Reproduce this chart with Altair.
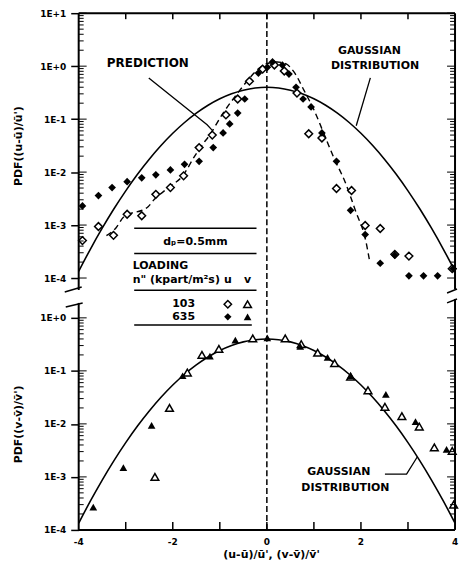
import altair as alt
import pandas as pd

FONT = "DejaVu Sans"

# ---------------- data ----------------
# Gaussian distribution curve (same in both panels)
gauss_x = [-4.0, -3.75, -3.5, -3.25, -3.0, -2.75, -2.5, -2.25, -2.0, -1.75, -1.5, -1.25, -1.0, -0.75, -0.5, -0.25, 0.0,
           0.25, 0.5, 0.75, 1.0, 1.25, 1.5, 1.75, 2.0, 2.25, 2.5, 2.75, 3.0, 3.25, 3.5, 3.75, 4.0]
gauss_pdf = [1.34e-4, 3.53e-4, 8.73e-4, 2.03e-3, 4.43e-3, 9.1e-3, 0.0175, 0.0317, 0.054, 0.0863, 0.1295, 0.1826, 0.242,
             0.301, 0.352, 0.387, 0.399, 0.387, 0.352, 0.301, 0.242, 0.1826, 0.1295, 0.0863, 0.054, 0.0317, 0.0175,
             9.1e-3, 4.43e-3, 2.03e-3, 8.73e-4, 3.53e-4, 1.34e-4]

# Prediction (dashed) curve, top panel
pred_x = [-3.41, -3.20, -3.05, -2.53, -2.40, -2.09, -1.79, -1.52, -1.37, -1.23, -0.93, -0.62, -0.37, -0.16, 0.05,
          0.22, 0.41, 0.58, 0.79, 1.00, 1.25, 1.42, 1.67, 1.88, 2.11, 2.18]
pred_pdf = [6.3e-4, 9.0e-4, 1.4e-3, 2.2e-3, 3.0e-3, 5.1e-3, 8.5e-3, 0.021, 0.033, 0.048, 0.13, 0.31, 0.59, 0.92, 1.15,
            1.2, 1.1, 0.77, 0.35, 0.15, 0.044, 0.019, 6.3e-3, 1.9e-3, 4.7e-4, 2.2e-4]

# u data, loading 103 (open diamonds)
u103_x = [-3.92, -3.58, -3.26, -2.97, -2.66, -2.36, -2.05, -1.77, -1.44, -1.16, -0.87, -0.62, -0.37, -0.09, 0.16,
          0.37, 0.64, 0.89, 1.17, 1.48, 1.80, 2.09, 2.41, 2.72, 3.02, 3.94]
u103_pdf = [5.1e-4, 9.4e-4, 6.4e-4, 1.6e-3, 1.5e-3, 3.8e-3, 5.1e-3, 8.5e-3, 2.9e-2, 5.0e-2, 0.12, 0.24, 0.52, 0.88,
            1.05, 0.81, 0.31, 0.053, 0.044, 4.9e-3, 4.5e-3, 9.8e-4, 8.6e-4, 2.8e-4, 2.6e-4, 1.5e-4]

# u data, loading 635 (filled diamonds)
u635_x = [-3.92, -3.58, -3.29, -2.97, -2.66, -2.36, -2.05, -1.75, -1.44, -1.14, -0.93, -0.79, -0.62, -0.47, -0.18,
          0.01, 0.12, 0.33, 0.47, 0.62, 0.77, 0.94, 1.17, 1.48, 1.78, 2.09, 2.41, 2.72, 3.02, 3.33, 3.63, 3.96]
u635_pdf = [2.3e-3, 3.6e-3, 5.1e-3, 6.6e-3, 7.8e-3, 8.9e-3, 1.1e-2, 1.4e-2, 1.6e-2, 2.9e-2, 5.5e-2, 8.1e-2, 0.13,
            0.24, 0.74, 0.95, 1.2, 1.05, 0.71, 0.40, 0.24, 0.17, 0.055, 0.016, 1.9e-3, 6.6e-4, 1.9e-4, 2.7e-4,
            1.1e-4, 1.1e-4, 1.1e-4, 1.5e-4]

# v data, loading 103 (open triangles)
v103_x = [-2.38, -2.07, -1.69, -1.38, -1.02, -0.30, 0.39, 0.73, 1.08, 1.44, 1.78, 2.15, 2.51, 2.87, 3.24, 3.56,
          3.94, 3.97]
v103_pdf = [1.0e-3, 0.020, 0.093, 0.20, 0.26, 0.41, 0.41, 0.32, 0.22, 0.14, 0.078, 0.043, 0.021, 0.014, 8.9e-3,
            3.6e-3, 3.1e-3, 3.0e-4]

# v data, loading 635 (filled triangles)
v635_x = [-3.69, -3.05, -2.45, -1.79, -1.21, -0.67, 0.01, 0.71, 1.29, 1.78, 2.53, 3.16, 3.82]
v635_pdf = [2.7e-4, 1.5e-3, 9.4e-3, 0.081, 0.19, 0.38, 0.42, 0.29, 0.18, 0.081, 0.036, 0.011, 3.3e-3]

top_decades = [1e-4, 1e-3, 1e-2, 1e-1, 1, 10]
bot_decades = [1e-4, 1e-3, 1e-2, 1e-1, 1]
x_inner_ticks = [-3, -2, -1, 0, 1, 2, 3]
x_label_vals = [-4, -2, 0, 2, 4]
x_label_text = ["-4", "-2", "0", "2", "4"]

y_title_top = "PDF((u-ū)/ū')"
y_title_bot = "PDF((v-v̄)/v̄')"
x_title = "(u-ū)/ū', (v-v̄)/v̄'"

# ---------------- layout ----------------
W = 378          # plot width
HT = 266         # top panel (1E-4 .. 1E+1)
HB = 213         # bottom panel (1E-4 .. 1E+0)
GAP = 40         # broken-axis gap
H = HT + GAP + HB
DEC_T = HT / 5.0
DEC_B = HB / 4.0

xs = alt.Scale(domain=[-4, 4], nice=False, zero=False)
# top panel scale: 1E+1 at the top edge, 1E-4 at HT
yst = alt.Scale(type="log", domain=[10 ** (1 - H / DEC_T), 10], nice=False)
# bottom panel scale: 1E-4 at the bottom edge, 1E+0 at HT+GAP
ysb = alt.Scale(type="log", domain=[1e-4, 10 ** (-4 + H / DEC_B)], nice=False)

LBL = "'1E' + (datum.value >= 1 ? '+' : '-') + abs(round(log(datum.value) / LN10))"

one = pd.DataFrame({"k": [0]})


def minor_vals(lo, hi):
    out = []
    for e in range(lo, hi):
        for k in range(2, 10):
            out.append(k * 10.0 ** e)
    return out


def prule(x1, y1, x2, y2, w=2.0):
    return alt.Chart(one).mark_rule(color="black", strokeWidth=w).encode(
        x=alt.value(x1), y=alt.value(y1), x2=alt.value(x2), y2=alt.value(y2))


def line_layer(xv, yv, ys, dash=None, w=1.6, axis_y=None):
    df = pd.DataFrame({"x": xv, "y": yv})
    kw = {"strokeDash": dash} if dash else {}
    return alt.Chart(df).mark_line(color="black", strokeWidth=w, interpolate="monotone", **kw).encode(
        x=alt.X("x:Q", scale=xs, axis=None), y=alt.Y("y:Q", scale=ys, axis=axis_y))


def pts(xv, yv, ys, shape, filled, size):
    df = pd.DataFrame({"x": xv, "y": yv})
    if filled:
        m = alt.Chart(df).mark_point(shape=shape, filled=True, color="black", size=size, opacity=1)
    else:
        m = alt.Chart(df).mark_point(shape=shape, filled=True, fill="white", stroke="black",
                                     strokeWidth=1.5, size=size, opacity=1)
    return m.encode(x=alt.X("x:Q", scale=xs, axis=None), y=alt.Y("y:Q", scale=ys, axis=None))


def texts(rows, ys, size=11, align="center"):
    df = pd.DataFrame(rows, columns=["x", "y", "t"])
    return alt.Chart(df).mark_text(font=FONT, fontWeight="bold", fontSize=size, align=align,
                                   baseline="middle", color="black").encode(
        x=alt.X("x:Q", scale=xs, axis=None), y=alt.Y("y:Q", scale=ys, axis=None), text="t:N")


def xtexts(xv, tv, ypix, size):
    df = pd.DataFrame({"x": xv, "t": tv})
    return alt.Chart(df).mark_text(font=FONT, fontWeight="bold", fontSize=size, align="center",
                                   baseline="middle", color="black").encode(
        x=alt.X("x:Q", scale=xs, axis=None), y=alt.value(ypix), text="t:N")


def hlines(rows, ys, w=1.5):
    df = pd.DataFrame(rows, columns=["x1", "x2", "y"])
    return alt.Chart(df).mark_rule(color="black", strokeWidth=w).encode(
        x=alt.X("x1:Q", scale=xs, axis=None), x2="x2:Q", y=alt.Y("y:Q", scale=ys, axis=None))


def polyline(pts_list, ys, w=1.3):
    df = pd.DataFrame({"x": [p[0] for p in pts_list], "y": [p[1] for p in pts_list],
                       "o": list(range(len(pts_list)))})
    return alt.Chart(df).mark_line(color="black", strokeWidth=w).encode(
        x=alt.X("x:Q", scale=xs, axis=None), y=alt.Y("y:Q", scale=ys, axis=None), order="o:Q")


def yticks(vals, ys, length):
    df = pd.DataFrame({"v": vals})
    left = alt.Chart(df).mark_rule(color="black", strokeWidth=1).encode(
        y=alt.Y("v:Q", scale=ys, axis=None), x=alt.value(0), x2=alt.value(length))
    right = alt.Chart(df).mark_rule(color="black", strokeWidth=1).encode(
        y=alt.Y("v:Q", scale=ys, axis=None), x=alt.value(W - length), x2=alt.value(W))
    return [left, right]


def xticks(y1, y2):
    df = pd.DataFrame({"v": x_inner_ticks})
    return alt.Chart(df).mark_rule(color="black", strokeWidth=1.5).encode(
        x=alt.X("v:Q", scale=xs, axis=None), y=alt.value(y1), y2=alt.value(y2))


def y_axis(vals, title, title_y):
    return alt.Axis(orient="left", values=vals, labelExpr=LBL, tickSize=8, tickWidth=1.5, domain=False,
                    grid=False, labelFontSize=9, labelPadding=5, title=title, titleFontSize=11,
                    titleX=-60, titleY=title_y, titleAngle=270, titleAlign="center", titleBaseline="middle")


zero_df = pd.DataFrame({"x": [0]})
zero_line = alt.Chart(zero_df).mark_rule(color="black", strokeWidth=1.5, strokeDash=[6, 3]).encode(
    x=alt.X("x:Q", scale=xs, axis=None), y=alt.value(0), y2=alt.value(H))

layers = [
    # Gaussian curves, carrying the y axes
    line_layer(gauss_x, gauss_pdf, yst, axis_y=y_axis(top_decades, y_title_top, HT / 2)),
    line_layer(gauss_x, gauss_pdf, ysb, axis_y=y_axis(bot_decades, y_title_bot, HT + GAP + HB / 2)),
    zero_line,
    # ---- top panel ----
    line_layer(pred_x, pred_pdf, yst, dash=[6, 4], w=1.4),
    pts(u103_x, u103_pdf, yst, "diamond", False, 60),
    pts(u635_x, u635_pdf, yst, "diamond", True, 60),
    # ---- bottom panel ----
    pts(v103_x, v103_pdf, ysb, "triangle-up", False, 60),
    pts(v635_x, v635_pdf, ysb, "triangle-up", True, 60),
    # ---- frame with broken axis ----
    prule(0, 0, W, 0), prule(0, H, W, H),
    prule(0, 0, 0, HT + 12), prule(W, 0, W, HT + 11),
    prule(0, HT + GAP - 15, 0, H), prule(W, HT + GAP - 19, W, H),
    prule(-14, HT + 14, 3, HT + 9, 1.5), prule(W - 8, HT + 15, W + 2, HT + 11, 1.5),
    prule(-13, HT + GAP - 11, 4, HT + GAP - 15, 1.5), prule(W - 8, HT + GAP - 15, W + 2, HT + GAP - 19, 1.5),
    xticks(0, 6),
    xticks(H - 8, H),
    *yticks(minor_vals(-4, 1), yst, 5),
    *yticks(top_decades, yst, 8),
    *yticks(minor_vals(-4, 0), ysb, 5),
    *yticks(bot_decades, ysb, 8),
    # ---- x tick labels and title ----
    xtexts(x_label_vals, x_label_text, H + 12, 9),
    xtexts([0.1], [x_title], H + 25, 11),
    # ---- annotations, top ----
    texts([[-2.53, 1.15, "PREDICTION"]], yst, size=12),
    polyline([[-2.51, 0.60], [-1.27, 0.078], [-1.15, 0.060]], yst),
    texts([[2.18, 1.93, "GAUSSIAN"], [2.30, 1.01, "DISTRIBUTION"]], yst),
    polyline([[2.20, 0.60], [1.90, 0.075]], yst),
    # ---- legend table ----
    hlines([[-2.82, -0.22, 8.7e-4], [-2.82, -0.22, 2.9e-4], [-2.82, -0.22, 5.9e-5], [-2.82, -0.32, 1.3e-5]], yst),
    texts([[-1.52, 4.8e-4, "dₚ=0.5mm"]], yst),
    texts([[-2.85, 1.7e-4, "LOADING"], [-2.85, 9.1e-5, 'n" (kpart/m²s)']], yst, align="left"),
    texts([[-0.83, 9.1e-5, "u"], [-0.41, 9.1e-5, "v"], [-1.77, 3.2e-5, "103"], [-1.77, 1.85e-5, "635"]], yst),
    pts([-0.83], [3.2e-5], yst, "diamond", False, 55),
    pts([-0.41], [3.2e-5], yst, "triangle-up", False, 60),
    pts([-0.83], [1.85e-5], yst, "diamond", True, 55),
    pts([-0.41], [1.85e-5], yst, "triangle-up", True, 60),
    # ---- annotations, bottom ----
    texts([[1.53, 1.24e-3, "GAUSSIAN"], [1.67, 6.2e-4, "DISTRIBUTION"]], ysb),
    polyline([[2.51, 1.13e-3], [2.97, 1.13e-3], [3.2, 2.4e-3]], ysb),
]

chart = alt.layer(*layers).resolve_scale(y="independent").properties(
    width=W, height=H, padding={"left": 5, "top": 0, "right": 0, "bottom": 0}
).configure_view(stroke=None).configure_axis(
    labelFont=FONT, titleFont=FONT, labelFontWeight="bold", titleFontWeight="bold",
    labelColor="black", titleColor="black", domainColor="black", tickColor="black",
    labelFlush=False
)

chart.save("out.html", embed_options={"renderer": "svg", "actions": False})
